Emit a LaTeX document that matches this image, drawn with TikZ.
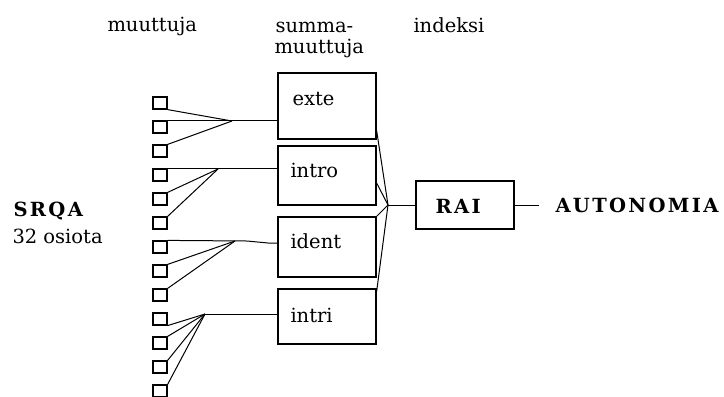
\documentclass[tikz,border=0pt]{standalone}
\usepackage{fontspec}
\setmainfont{DejaVu Serif}
\newfontfamily\widebold{DejaVu Serif Bold}[LetterSpace=12]
\usetikzlibrary{calc}

\begin{document}
\begin{tikzpicture}[x=1bp, y=-1bp, line width=1bp,
  varbox/.style={draw, line width=1.2bp, minimum width=14bp, minimum height=12bp, inner sep=0pt},
  sumbox/.style={draw, line width=1.3bp, minimum width=98bp, inner sep=0pt},
  txt/.style={anchor=base west, inner sep=0pt, font=\fontsize{19.5bp}{24bp}\selectfont},
  bold/.style={anchor=base west, inner sep=0pt, font=\fontsize{19.5bp}{24bp}\widebold}]

\path[use as bounding box] (0,0) rectangle (724,396);

% column headings
\node[txt] (h1) at (107,31) {muuttuja};
\node[txt] (h2a) at (275,32) {summa-};
\node[txt] (h2b) at (274,53) {muuttuja};
\node[txt] (h3) at (413,32) {indeksi};

% questionnaire label
\node[bold] (srqa) at (13,216) {SRQA};
\node[txt] (osiot) at (12,243) {32 osiota};

% item boxes
\foreach \i in {1,...,13}{
  \node[varbox] (s\i) at (160,{103+24*(\i-1)}) {};
}

% sum variable boxes
\node[sumbox, minimum height=66bp] (exte)  at (327,106)   {};
\node[sumbox, minimum height=59bp] (intro) at (327,175.5) {};
\node[sumbox, minimum height=60bp] (ident) at (327,247)   {};
\node[sumbox, minimum height=55bp] (intri) at (327,316.5) {};
\node[txt] (texte)  at (292,105) {exte};
\node[txt] (tintro) at (290,177) {intro};
\node[txt] (tident) at (290,248) {ident};
\node[txt] (tintri) at (290,322) {intri};

% index box and result
\node[sumbox, minimum height=48bp] (rai) at (465,205) {};
\node[bold] (trai) at (435,213) {RAI};
\node[bold] (auto) at (555,212) {AUTONOMIA};

% junction points
\coordinate (c1) at (232,121);
\coordinate (c2) at (218,169);
\coordinate (c3) at (235,241);
\coordinate (c3a) at (247,241);
\coordinate (c3b) at (268,243);
\coordinate (c4) at (205,314);
\coordinate (c5) at (388,205);
\coordinate (a1) at (539,205);

% items -> exte
\draw (s1.south east) -- (c1);
\draw (s3.north east) -- (c1);
\draw (s2.north east) -- (exte.west |- s2.north east);

% items -> intro
\draw (s4.north east) -- (intro.west |- s4.north east);
\draw (s5.north east) -- (c2);
\draw (s6.north east) -- (c2);

% items -> ident
\draw (s7.north east) -- (c3a) -- (c3b) -- (ident.west |- c3b);
\draw (s8.north east) -- (c3);
\draw (s9.north east) -- (c3);

% items -> intri
\draw (c4) -- (intri.west |- c4);
\draw (s10.south east) -- (c4);
\draw (s11.north east) -- (c4);
\draw (s12.north east) -- (c4);
\draw (s13.north east) -- (c4);

% sum variables -> RAI
\draw ($(exte.south east)+(0,-9)$) -- (c5);
\draw ($(intro.east)+(0,7.5)$) -- (c5);
\draw (ident.north east) -- (c5);
\draw ($(intri.north east)+(0,3)$) -- (c5);
\draw (c5) -- (rai.west);
\draw (rai.east) -- (a1);

\end{tikzpicture}
\end{document}
